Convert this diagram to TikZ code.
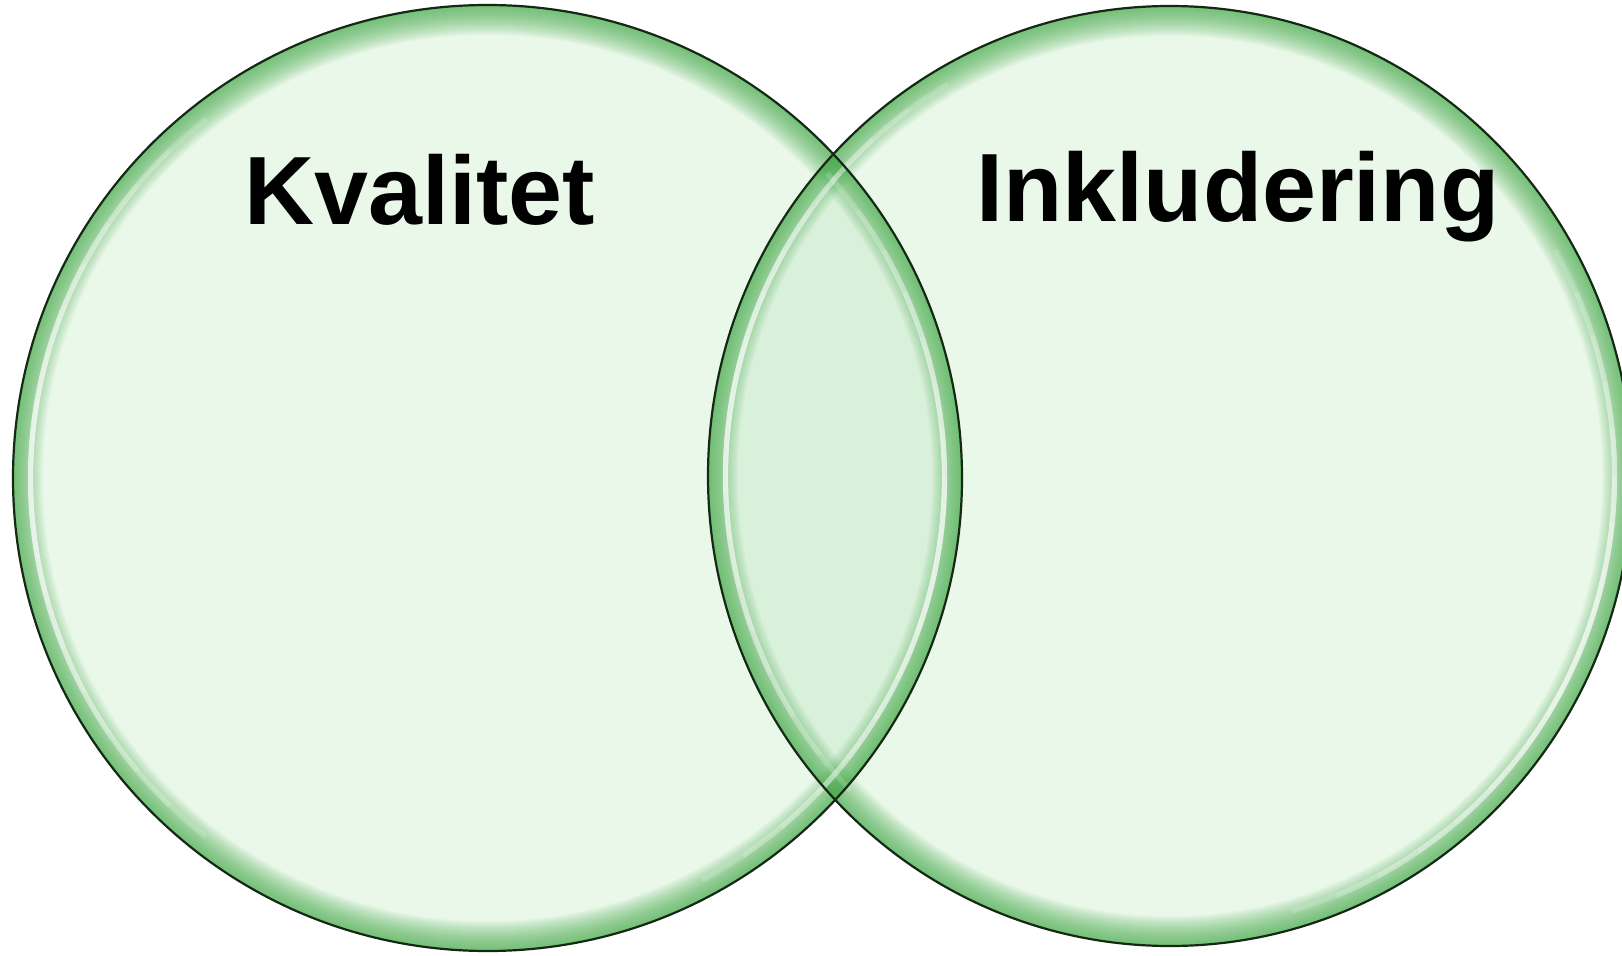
\documentclass[tikz,border=0pt]{standalone}
\usepackage{fontspec}
\setmainfont{Liberation Sans}
\definecolor{vennfill}{RGB}{234,248,234}
\definecolor{vennover}{RGB}{217,240,218}
\definecolor{vennglow}{RGB}{70,175,75}
\definecolor{vennline}{RGB}{20,40,20}
\begin{document}
\begin{tikzpicture}[x=0.5pt,y=0.5pt,
  rimline/.style={draw=vennline, line width=1.1pt},
  glowline/.style={vennglow, opacity=0.036},
  shineline/.style={white, line width=2.6pt, opacity=0.16},
  labeltext/.style={font=\fontsize{48.5}{58}\selectfont\bfseries, text=black, inner sep=0pt, anchor=base}]
\useasboundingbox (0,0) rectangle (1622,955);
\coordinate (L) at (487.5,477);
\coordinate (R) at (1170,479);
% fills
\fill[vennfill] (L) ellipse [x radius=474.5, y radius=473];
\fill[vennfill] (R) ellipse [x radius=462, y radius=470];
\begin{scope}
  \clip (L) ellipse [x radius=474.5, y radius=473];
  \fill[vennover] (R) ellipse [x radius=462, y radius=470];
\end{scope}
% inner glow
\foreach \c/\rx/\ry in {L/474.5/473, R/462/470}{
  \begin{scope}
    \clip (\c) ellipse [x radius=\rx, y radius=\ry];
    \foreach \w in {1,2,...,30}
      \draw[glowline, line width=\w pt] (\c) ellipse [x radius=\rx, y radius=\ry];
  \end{scope}
}
% highlights
\foreach \c/\hx/\hy/\la/\ra in {L/457/455.5/180/-10, R/444.5/452.5/172/-22}{
  \foreach \sp in {52,46,40,34,28,22,16,10}{
    \draw[shineline] (\c) ++({\la-\sp}:{\hx} and {\hy})
      arc [start angle={\la-\sp}, end angle={\la+\sp}, x radius=\hx, y radius=\hy];
    \draw[shineline] (\c) ++({\ra-\sp}:{\hx} and {\hy})
      arc [start angle={\ra-\sp}, end angle={\ra+\sp}, x radius=\hx, y radius=\hy];
  }
}
% outlines
\draw[rimline] (L) ellipse [x radius=474.5, y radius=473];
\draw[rimline] (R) ellipse [x radius=462, y radius=470];
% labels
\node[labeltext] (kval) at (420,730) {Kvalitet};
\node[labeltext] (inkl) at (1238,733) {Inkludering};
\end{tikzpicture}
\end{document}
